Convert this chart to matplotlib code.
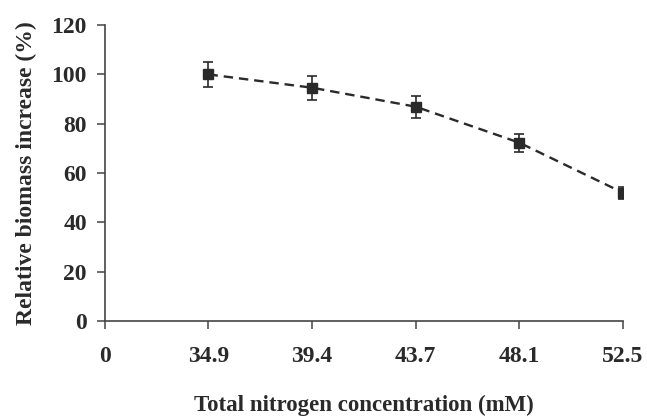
import matplotlib
matplotlib.use("Agg")
import matplotlib.pyplot as plt

# x categories (equally spaced), first one is just the origin label
x_labels = ["0", "34.9", "39.4", "43.7", "48.1", "52.5"]
biomass = [100.0, 94.6, 86.9, 72.3, 52.0]
err = [5.2, 4.9, 4.4, 3.7, 2.5]

plt.rcParams["font.family"] = ["Liberation Serif", "DejaVu Serif"]
plt.rcParams["font.weight"] = "bold"

fig = plt.figure(figsize=(6.47, 4.18), dpi=100)
ax = fig.add_axes([0.162, 0.232, 0.801, 0.708])

pos = list(range(1, len(x_labels)))
ax.errorbar(pos, biomass, yerr=err, color="#2a2a2a", ls=(0, (4, 2.5)), lw=1.7,
            marker="s", ms=6.5, capsize=3.5, elinewidth=1.2, capthick=1.2)

ax.set_xlim(0, len(x_labels) - 1)
ax.set_ylim(0, 120)
ax.set_xticks(range(len(x_labels)))
ax.set_xticklabels(x_labels)
ax.set_yticks(range(0, 121, 20))
for s in ("top", "right"):
    ax.spines[s].set_visible(False)
for s in ("left", "bottom"):
    ax.spines[s].set_color("#444444")
    ax.spines[s].set_linewidth(1.2)
ax.tick_params(direction="out", length=6, width=1.1, colors="#444444",
               labelsize=17, labelcolor="#2a2a2a")
ax.tick_params(axis="y", pad=7)
ax.tick_params(axis="x", pad=12)
ax.set_xlabel("Total nitrogen concentration (mM)", fontsize=16.5,
              color="#2a2a2a", labelpad=20, fontweight="bold")
ax.set_ylabel("Relative biomass increase (%)", fontsize=17,
              color="#2a2a2a", labelpad=10, fontweight="bold")

fig.savefig("out.png", dpi=100)
plt.close(fig)
